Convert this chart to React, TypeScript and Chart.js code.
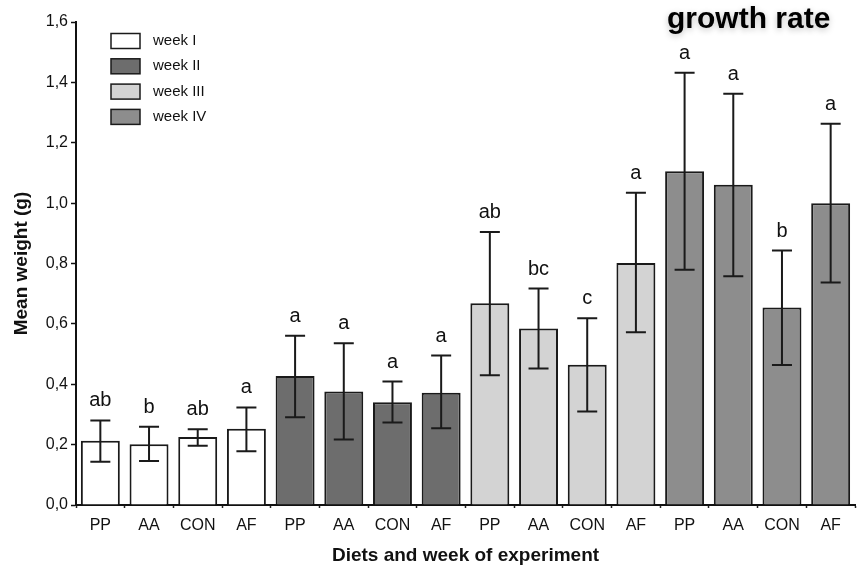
import React, { useEffect, useRef } from 'react';
import { Chart, registerables } from 'chart.js';

Chart.register(...registerables);

const diets = ['PP', 'AA', 'CON', 'AF'];
const weeks = ['week I', 'week II', 'week III', 'week IV'];
const weekColors = ['#ffffff', '#6d6d6d', '#d3d3d3', '#8d8d8d'];

const meanWeek1 = [0.213, 0.201, 0.225, 0.253];
const meanWeek2 = [0.427, 0.376, 0.34, 0.372];
const meanWeek3 = [0.668, 0.585, 0.465, 0.802];
const meanWeek4 = [1.106, 1.061, 0.654, 1.0];

const upperWeek1 = [0.28, 0.259, 0.251, 0.323];
const upperWeek2 = [0.561, 0.536, 0.409, 0.495];
const upperWeek3 = [0.904, 0.717, 0.619, 1.034];
const upperWeek4 = [1.432, 1.362, 0.843, 1.263];

const lowerWeek1 = [0.143, 0.146, 0.196, 0.178];
const lowerWeek2 = [0.291, 0.217, 0.273, 0.254];
const lowerWeek3 = [0.43, 0.452, 0.31, 0.572];
const lowerWeek4 = [0.779, 0.758, 0.464, 0.737];

const lettersWeek1 = ['ab', 'b', 'ab', 'a'];
const lettersWeek2 = ['a', 'a', 'a', 'a'];
const lettersWeek3 = ['ab', 'bc', 'c', 'a'];
const lettersWeek4 = ['a', 'a', 'b', 'a'];

const yTicks = [0, 0.2, 0.4, 0.6, 0.8, 1.0, 1.2, 1.4, 1.6];

const means = [meanWeek1, meanWeek2, meanWeek3, meanWeek4];
const uppers = [upperWeek1, upperWeek2, upperWeek3, upperWeek4];
const lowers = [lowerWeek1, lowerWeek2, lowerWeek3, lowerWeek4];
const letters = [lettersWeek1, lettersWeek2, lettersWeek3, lettersWeek4];

const FONT = "'Liberation Sans', Arial, Helvetica, sans-serif";

const labels: string[] = [];
weeks.forEach(() => diets.forEach((d) => labels.push(d)));

const errorPlugin = {
  id: 'errorsAndLetters',
  afterDatasetsDraw(chart: any) {
    const ctx = chart.ctx;
    const xs = chart.scales.x;
    const ys = chart.scales.y;
    ctx.save();
    for (let w = 0; w < weeks.length; w++) {
      for (let d = 0; d < diets.length; d++) {
        const idx = w * diets.length + d;
        const x = xs.getPixelForValue(idx);
        const yH = ys.getPixelForValue(uppers[w][d]);
        const yL = ys.getPixelForValue(lowers[w][d]);
        ctx.strokeStyle = '#1a1a1a';
        ctx.lineWidth = 2;
        ctx.beginPath();
        ctx.moveTo(x, yL);
        ctx.lineTo(x, yH);
        ctx.moveTo(x - 10, yH);
        ctx.lineTo(x + 10, yH);
        ctx.moveTo(x - 10, yL);
        ctx.lineTo(x + 10, yL);
        ctx.stroke();
        ctx.fillStyle = '#111';
        ctx.font = `20px ${FONT}`;
        ctx.textAlign = 'center';
        ctx.textBaseline = 'alphabetic';
        ctx.fillText(letters[w][d], x, yH - 14);
      }
    }
    ctx.restore();
  },
  afterDraw(chart: any) {
    const ctx = chart.ctx;
    ctx.save();
    // legend
    for (let i = 0; i < weeks.length; i++) {
      const cy = 41 + i * 25.3;
      ctx.fillStyle = weekColors[i];
      ctx.fillRect(111, cy - 7.5, 29, 15);
      ctx.strokeStyle = '#1a1a1a';
      ctx.lineWidth = 1.5;
      ctx.strokeRect(111, cy - 7.5, 29, 15);
      ctx.fillStyle = '#111';
      ctx.font = `15px ${FONT}`;
      ctx.textAlign = 'left';
      ctx.textBaseline = 'middle';
      ctx.fillText(weeks[i], 153, cy);
    }
    // header
    ctx.shadowColor = 'rgba(0,0,0,0.25)';
    ctx.shadowBlur = 6;
    ctx.shadowOffsetY = 2;
    ctx.fillStyle = '#000';
    ctx.font = `bold 30px ${FONT}`;
    ctx.textAlign = 'left';
    ctx.textBaseline = 'alphabetic';
    ctx.fillText('growth rate', 667, 28);
    ctx.restore();
  },
};

export default function App() {
  const ref = useRef<HTMLCanvasElement | null>(null);
  useEffect(() => {
    if (!ref.current) return;
    const datasets = weeks.map((wk, w) => {
      const data: (number | null)[] = labels.map(() => null);
      diets.forEach((_, d) => {
        data[w * diets.length + d] = means[w][d];
      });
      return {
        label: wk,
        data,
        backgroundColor: weekColors[w],
        borderColor: '#1a1a1a',
        borderWidth: 2,
        borderSkipped: 'bottom' as const,
        barPercentage: 0.8,
        categoryPercentage: 1,
      };
    });
    const chart = new Chart(ref.current, {
      type: 'bar',
      data: { labels, datasets },
      options: {
        responsive: false,
        animation: false,
        layout: { padding: { top: 22, right: 3, left: 0, bottom: 0 } },
        plugins: {
          legend: { display: false },
          tooltip: { enabled: false },
          title: { display: false },
        },
        scales: {
          x: {
            stacked: true,
            offset: true,
            grid: {
              display: true,
              offset: true,
              drawOnChartArea: false,
              drawTicks: true,
              tickLength: 3,
              tickColor: '#222',
              tickWidth: 1.5,
            },
            border: { display: true, color: '#111', width: 2 },
            ticks: {
              color: '#111',
              font: { family: FONT, size: 16 },
              padding: 8,
              maxRotation: 0,
              autoSkip: false,
            },
            title: {
              display: true,
              text: 'Diets and week of experiment',
              color: '#111',
              font: { family: FONT, size: 19, weight: 'bold' },
              padding: { top: 0, bottom: -2 },
            },
            afterFit(scale: any) {
              scale.height = 60;
            },
          },
          y: {
            stacked: false,
            min: 0,
            max: 1.6,
            afterBuildTicks(scale: any) {
              scale.ticks = yTicks.map((v) => ({ value: v }));
            },
            grid: {
              display: true,
              drawOnChartArea: false,
              drawTicks: true,
              tickLength: 5,
              tickColor: '#111',
              tickWidth: 1.5,
            },
            border: { display: true, color: '#111', width: 2 },
            ticks: {
              color: '#111',
              font: { family: FONT, size: 16 },
              padding: 3,
              callback: (v: any) => Number(v).toFixed(1).replace('.', ','),
            },
            title: {
              display: true,
              text: 'Mean weight (g)',
              color: '#111',
              font: { family: FONT, size: 19, weight: 'bold' },
              padding: { top: 10, bottom: 0 },
            },
            afterFit(scale: any) {
              scale.width = 76;
            },
          },
        },
      },
      plugins: [errorPlugin],
    });
    return () => chart.destroy();
  }, []);
  return (
    <div style={{ position: 'absolute', left: 0, top: 0, width: 858, height: 565, background: '#fff' }}>
      <canvas ref={ref} width={858} height={565} style={{ display: 'block' }} />
    </div>
  );
}
